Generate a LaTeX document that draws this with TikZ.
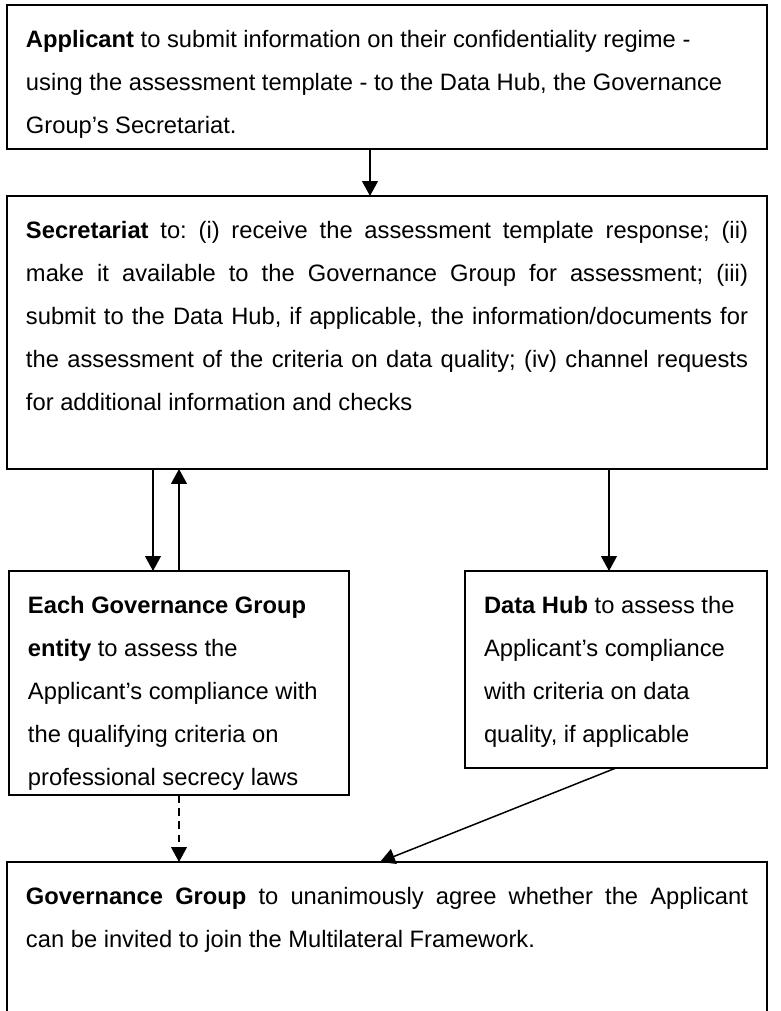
\documentclass[tikz,border=0pt]{standalone}
\usepackage{fontspec}
\setmainfont{Liberation Sans}
\usetikzlibrary{arrows.meta}

\newcommand{\stagetext}[3]{\parbox[t][#1][t]{#2}{\frenchspacing\hyphenpenalty=10000\exhyphenpenalty=10000\rule{0pt}{0.86cm}#3}}

\begin{document}
\begin{tikzpicture}[
    stage/.style={draw, line width=1.1pt, inner xsep=0.38cm, inner ysep=0pt, outer sep=0pt, anchor=north west},
    flow/.style={line width=0.85pt, -{Triangle[width=9pt,length=8.5pt]}},
    font=\fontsize{13.5}{24.4}\selectfont
  ]

            \useasboundingbox (0, 0) rectangle (15.62, 20.22);

            \node[stage] (A) at (0.14, 20.12) { \stagetext{2.88cm}{14.44cm}{\raggedright\textbf{Applicant} to submit information on their confidentiality regime -\\ using the assessment template - to the Data Hub, the Governance\\ Group’s Secretariat.} };
            \node[stage] (B) at (0.14, 16.30) { \stagetext{5.46cm}{14.44cm}{\textbf{Secretariat} to: (i) receive the assessment template response; (ii)\linebreak make it available to the Governance Group for assessment; (iii)\linebreak submit to the Data Hub, if applicable, the information/documents for\linebreak the assessment of the criteria on data quality; (iv) channel requests\linebreak for additional information and checks} };
            \node[stage] (C) at (0.18, 8.80) { \stagetext{4.48cm}{6.04cm}{\raggedright\textbf{Each Governance Group}\\ \textbf{entity} to assess the\\ Applicant’s compliance with\\ the qualifying criteria on\\ professional secrecy laws} };
            \node[stage] (D) at (9.30, 8.80) { \stagetext{3.94cm}{5.28cm}{\raggedright\textbf{Data Hub} to assess the\\ Applicant’s compliance\\ with criteria on data\\ quality, if applicable} };
            \node[stage] (E) at (0.14, 2.98) { \stagetext{3.70cm}{14.44cm}{\textbf{Governance Group} to unanimously agree whether the Applicant\linebreak can be invited to join the Multilateral Framework.} };

            \coordinate (down) at ([xshift=-0.52cm]C.north);
            \coordinate (hubin) at ([xshift=-0.14cm]D.north);

            \draw[flow] ([xshift=-0.34cm]A.south) to ([xshift=-0.34cm]B.north);
            \draw[flow] (B.south -| down) to (down);
            \draw[flow] (C.north) to (C.north |- B.south);
            \draw[flow] (B.south -| hubin) to (hubin);
            \draw[flow, dash pattern=on 4.5pt off 3pt] (C.south) to (C.south |- E.north);
            \draw[flow] (D.south) to ([xshift=-0.14cm]E.north);
        \end{tikzpicture}
\end{document}
